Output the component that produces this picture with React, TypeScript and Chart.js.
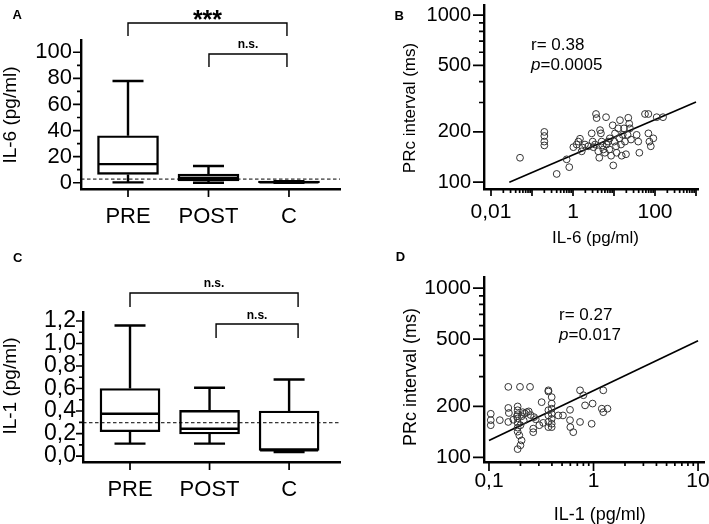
import React, { useEffect, useRef } from 'react';
import { Chart, registerables } from 'chart.js';

Chart.register(...registerables);

const FONT = "'Liberation Sans', Arial, Helvetica, sans-serif";

// ---------------- DATA ----------------
const groups = ['PRE', 'POST', 'C'];

// Panel A – IL-6 (pg/ml) box plots
const il6Min = [0.3, 0, 0];
const il6Q1 = [6.4, 1.3, 0];
const il6Median = [14.3, 3.6, 0.4];
const il6Q3 = [36, 6.6, 1.2];
const il6Max = [78, 12.8, 1.2];
const il6Cutoff = 2.8;
const il6TickValues = [0, 20, 40, 60, 80, 100];
const il6MinorTicks = [10, 30, 50, 70, 90];

// Panel C – IL-1 (pg/ml) box plots
const il1Min = [0.11, 0.11, 0.035];
const il1Q1 = [0.216, 0.196, 0.05];
const il1Median = [0.376, 0.243, 0.05];
const il1Q3 = [0.6, 0.406, 0.4];
const il1Max = [1.16, 0.607, 0.68];
const il1Cutoff = 0.296;
const il1TickValues = [0, 0.2, 0.4, 0.6, 0.8, 1.0, 1.2];
const il1MinorTicks = [0.1, 0.3, 0.5, 0.7, 0.9, 1.1];

// Panel B – IL-6 vs PRc interval
const il6X = [
  0.051, 0.2, 0.2, 0.2, 0.2, 0.4, 0.7, 0.81, 1.02, 1.23, 1.35, 1.48, 1.63, 1.72, 1.96, 2.35, 2.86,
  3.02, 3.14, 3.45, 3.64, 3.77, 4.14, 4.37, 4.57, 4.8, 5.0, 5.28, 5.5, 6.0, 6.4, 6.6, 7.2, 7.7, 7.9,
  8.5, 9.3, 9.6, 10.2, 10.6, 11.2, 11.6, 12.7, 13.5, 14, 14.8, 15.4, 16.3, 17.5, 18.5, 19.6, 21.5,
  22.3, 23.5, 24.5, 26, 35.7, 39, 41.5, 57, 69, 69, 73, 79, 91, 110, 157,
];
const prcB = [
  140, 200, 189, 175, 166, 112, 137, 123, 162, 168, 175, 182, 153, 161, 168, 164, 196,
  175, 162, 168, 256, 242, 153, 140, 205, 196, 175, 166, 157, 150, 245, 168, 175, 157, 183,
  144, 219, 126, 175, 196, 164, 150, 210, 183, 235, 168, 144, 192, 210, 175, 147, 192,
  243, 224, 210, 180, 192, 175, 150, 256, 256, 196, 175, 164, 183, 245, 245,
];
const fitBX = [0.028, 1000];
const fitBY = [100, 302];

// Panel D – IL-1 vs PRc interval
const il1X = [
  0.104, 0.104, 0.104, 0.127, 0.153, 0.153, 0.153, 0.171, 0.185, 0.188, 0.188, 0.188, 0.188, 0.188,
  0.188, 0.188, 0.198, 0.188, 0.2, 0.205, 0.195, 0.2, 0.21, 0.205, 0.215, 0.22, 0.247, 0.24, 0.25,
  0.265, 0.265, 0.27, 0.23, 0.303, 0.319, 0.37, 0.37, 0.37, 0.37, 0.37, 0.37, 0.398, 0.398, 0.398,
  0.398, 0.398, 0.398, 0.398, 0.46, 0.51, 0.596, 0.596, 0.6, 0.64, 0.743, 0.8, 0.743, 0.83, 0.98,
  0.96, 1.24, 1.2, 1.24, 1.36, 0.155, 0.28, 0.33,
];
const prcD = [
  181, 166, 155, 166, 261, 196, 162, 167, 175, 200, 190, 180, 170, 160,
  150, 142, 261, 112, 118, 126, 135, 155, 185, 175, 165, 182, 261, 187, 178,
  148, 141, 173, 185, 155, 212, 249, 245, 190, 177, 162, 151, 227, 208, 194,
  181, 169, 158, 151, 177, 177, 191, 166, 151, 141, 249, 233, 162, 203, 208,
  158, 249, 194, 185, 194, 183, 168, 160,
];
const fitDX = [0.1, 10];
const fitDY = [126, 488];

const prcTickValues = [100, 200, 500, 1000];
const prcTickLabels = ['100', '200', '500', '1000'];
const prcMinorTicks = [300, 400, 600, 700, 800, 900];

const il6LogMajor = [0.01, 0.1, 1, 10, 100, 1000];
const il6LogLabelValues = [0.01, 1, 100];
const il6LogLabels = ['0,01', '1', '100'];

const il1LogMajor = [0.1, 1, 10];
const il1LogLabelValues = [0.1, 1, 10];
const il1LogLabels = ['0,1', '1', '10'];

// ---------------- helpers ----------------
function decadeMinors(majors: number[]) {
  const out: number[] = [];
  for (let i = 0; i < majors.length - 1; i++) {
    for (let k = 2; k <= 9; k++) out.push(+(majors[i] * k).toPrecision(6));
  }
  return out;
}

type TickSpec = { x: { v: number; len: number }[]; y: { v: number; len: number }[] };

function drawTickMarks(chart: any, spec: TickSpec) {
  const ctx = chart.ctx;
  const { left, bottom } = chart.chartArea;
  const xs = chart.scales.x;
  const ys = chart.scales.y;
  ctx.save();
  ctx.strokeStyle = '#000';
  ctx.lineWidth = 1.7;
  ctx.beginPath();
  spec.y.forEach((t) => {
    const y = ys.getPixelForValue(t.v);
    ctx.moveTo(left - t.len, y);
    ctx.lineTo(left, y);
  });
  spec.x.forEach((t) => {
    const x = xs.getPixelForValue(t.v);
    ctx.moveTo(x, bottom);
    ctx.lineTo(x, bottom + t.len);
  });
  ctx.stroke();
  ctx.restore();
}

type Bracket = { from: number; to: number; top: number; leg: number; text: string; size: number; dy: number };

type BoxPanel = {
  w: number; h: number;
  area: { left: number; right: number; top: number; bottom: number };
  xMin: number; xMax: number; yMin: number; yMax: number;
  min: number[]; q1: number[]; median: number[]; q3: number[]; max: number[];
  cutoff: number;
  yTicks: number[]; yMinor: number[]; yFmt: (v: number) => string;
  yFont: number; yPad: number; xFont: number; xPad: number;
  yMajorLen: number; yMinorLen: number; xLen: number;
  boxWidth: number; capHalf: number;
  brackets: Bracket[];
};

const LW = 2.4;

function makeBoxChart(canvas: HTMLCanvasElement, p: BoxPanel) {
  const plugin = {
    id: 'boxDeco',
    afterDatasetsDraw(chart: any) {
      const ctx = chart.ctx;
      const xs = chart.scales.x;
      const ys = chart.scales.y;
      const { left, right } = chart.chartArea;
      ctx.save();
      ctx.strokeStyle = '#000';
      ctx.lineWidth = LW;
      p.median.forEach((m, i) => {
        const x = xs.getPixelForValue(i + 1);
        const half = p.boxWidth / 2;
        const yq1 = ys.getPixelForValue(p.q1[i]);
        const yq3 = ys.getPixelForValue(p.q3[i]);
        const ymin = ys.getPixelForValue(p.min[i]);
        const ymax = ys.getPixelForValue(p.max[i]);
        const ym = ys.getPixelForValue(m);
        ctx.beginPath();
        ctx.moveTo(x, yq3); ctx.lineTo(x, ymax);
        ctx.moveTo(x - p.capHalf, ymax); ctx.lineTo(x + p.capHalf, ymax);
        ctx.moveTo(x, yq1); ctx.lineTo(x, ymin);
        ctx.moveTo(x - p.capHalf, ymin); ctx.lineTo(x + p.capHalf, ymin);
        ctx.moveTo(x - half + 1, ym); ctx.lineTo(x + half - 1, ym);
        ctx.stroke();
      });
      ctx.lineWidth = 1;
      ctx.setLineDash([3.5, 2.5]);
      const yc = ys.getPixelForValue(p.cutoff);
      ctx.beginPath();
      ctx.moveTo(left, yc);
      ctx.lineTo(right, yc);
      ctx.stroke();
      ctx.restore();
    },
    afterDraw(chart: any) {
      drawTickMarks(chart, {
        y: [
          ...p.yTicks.map((v) => ({ v, len: p.yMajorLen })),
          ...p.yMinor.map((v) => ({ v, len: p.yMinorLen })),
        ],
        x: groups.map((_, i) => ({ v: i + 1, len: p.xLen })),
      });
      const ctx = chart.ctx;
      const xs = chart.scales.x;
      ctx.save();
      ctx.strokeStyle = '#000';
      ctx.fillStyle = '#000';
      ctx.lineWidth = 1.4;
      p.brackets.forEach((b) => {
        const x1 = xs.getPixelForValue(b.from);
        const x2 = xs.getPixelForValue(b.to);
        ctx.beginPath();
        ctx.moveTo(x1, b.leg);
        ctx.lineTo(x1, b.top);
        ctx.lineTo(x2, b.top);
        ctx.lineTo(x2, b.leg);
        ctx.stroke();
        ctx.font = `bold ${b.size}px ${FONT}`;
        ctx.textAlign = 'center';
        ctx.textBaseline = 'alphabetic';
        ctx.fillText(b.text, (x1 + x2) / 2, b.top + b.dy);
      });
      ctx.restore();
    },
  };

  return new Chart(canvas, {
    type: 'bar',
    data: {
      datasets: [
        {
          data: groups.map((g, i) => ({ x: i + 1, y: [p.q1[i], p.q3[i]] })) as any,
          backgroundColor: '#ffffff',
          borderColor: '#000000',
          borderWidth: LW,
          borderSkipped: false,
          barThickness: p.boxWidth,
        } as any,
      ],
    },
    options: {
      animation: false,
      responsive: false,
      devicePixelRatio: 1,
      events: [],
      layout: { padding: { left: 0, top: p.area.top, right: p.w - p.area.right, bottom: 0 } },
      plugins: { legend: { display: false }, tooltip: { enabled: false } },
      scales: {
        x: {
          type: 'linear',
          position: 'bottom',
          min: p.xMin,
          max: p.xMax,
          bounds: 'data',
          offset: false,
          grid: { display: false, drawTicks: false },
          border: { display: true, color: '#000', width: LW },
          ticks: {
            autoSkip: false, maxRotation: 0, minRotation: 0, padding: p.xPad, color: '#000',
            font: { family: FONT, size: p.xFont },
            callback: (v: any) => groups[Math.round(Number(v)) - 1] ?? '',
          },
          afterBuildTicks: (s: any) => { s.ticks = groups.map((_, i) => ({ value: i + 1 })); },
          afterFit: (s: any) => { s.height = p.h - p.area.bottom; s.paddingLeft = 0; s.paddingRight = 0; },
        } as any,
        y: {
          type: 'linear',
          position: 'left',
          min: p.yMin,
          max: p.yMax,
          bounds: 'data',
          grid: { display: false, drawTicks: false },
          border: { display: true, color: '#000', width: LW },
          ticks: {
            autoSkip: false, padding: p.yPad, color: '#000',
            font: { family: FONT, size: p.yFont },
            callback: (v: any) => p.yFmt(Number(v)),
          },
          afterBuildTicks: (s: any) => { s.ticks = p.yTicks.map((v) => ({ value: v })); },
          afterFit: (s: any) => { s.width = p.area.left; s.paddingTop = 0; s.paddingBottom = 0; },
        } as any,
      },
    },
    plugins: [plugin],
  });
}

type ScatterPanel = {
  w: number; h: number;
  area: { left: number; right: number; top: number; bottom: number };
  xMin: number; xMax: number; yMin: number; yMax: number;
  xs: number[]; ys: number[]; fitX: number[]; fitY: number[];
  xMajor: number[]; xLabelValues: number[]; xLabels: string[];
  xFont: number; xPad: number; yFont: number; yPad: number;
  xMajorLen: number; xMinorLen: number; yMajorLen: number; yMinorLen: number;
};

function makeScatterChart(canvas: HTMLCanvasElement, p: ScatterPanel) {
  const xMinor = decadeMinors(p.xMajor);
  const plugin = {
    id: 'scatterDeco',
    afterDraw(chart: any) {
      drawTickMarks(chart, {
        y: [
          ...prcTickValues.map((v) => ({ v, len: p.yMajorLen })),
          ...prcMinorTicks.map((v) => ({ v, len: p.yMinorLen })),
        ],
        x: [
          ...p.xMajor.map((v) => ({ v, len: p.xMajorLen })),
          ...xMinor.map((v) => ({ v, len: p.xMinorLen })),
        ],
      });
    },
  };
  return new Chart(canvas, {
    type: 'scatter',
    data: {
      datasets: [
        {
          data: p.xs.map((x, i) => ({ x, y: p.ys[i] })),
          pointRadius: 3.4,
          pointBorderWidth: 1,
          borderColor: '#333333',
          backgroundColor: 'rgba(0,0,0,0)',
        },
        {
          data: p.fitX.map((x, i) => ({ x, y: p.fitY[i] })),
          showLine: true,
          pointRadius: 0,
          borderColor: '#000',
          borderWidth: 1.7,
          fill: false,
        } as any,
      ],
    },
    options: {
      animation: false,
      responsive: false,
      devicePixelRatio: 1,
      events: [],
      layout: { padding: { left: 0, top: p.area.top, right: p.w - p.area.right, bottom: 0 } },
      plugins: { legend: { display: false }, tooltip: { enabled: false } },
      scales: {
        x: {
          type: 'logarithmic',
          position: 'bottom',
          min: p.xMin,
          max: p.xMax,
          bounds: 'data',
          grid: { display: false, drawTicks: false },
          border: { display: true, color: '#000', width: LW },
          ticks: {
            autoSkip: false, maxRotation: 0, minRotation: 0, padding: p.xPad, color: '#000',
            font: { family: FONT, size: p.xFont },
            callback: (v: any) => {
              const i = p.xLabelValues.findIndex((t) => Math.abs(t - Number(v)) < t * 1e-6);
              return i >= 0 ? p.xLabels[i] : '';
            },
          },
          afterBuildTicks: (s: any) => { s.ticks = p.xLabelValues.map((v) => ({ value: v })); },
          afterFit: (s: any) => { s.height = p.h - p.area.bottom; s.paddingLeft = 0; s.paddingRight = 0; },
        } as any,
        y: {
          type: 'logarithmic',
          position: 'left',
          min: p.yMin,
          max: p.yMax,
          bounds: 'data',
          grid: { display: false, drawTicks: false },
          border: { display: true, color: '#000', width: LW },
          ticks: {
            autoSkip: false, padding: p.yPad, color: '#000',
            font: { family: FONT, size: p.yFont },
            callback: (v: any) => {
              const i = prcTickValues.findIndex((t) => Math.abs(t - Number(v)) < 1e-6);
              return i >= 0 ? prcTickLabels[i] : '';
            },
          },
          afterBuildTicks: (s: any) => { s.ticks = prcTickValues.map((v) => ({ value: v })); },
          afterFit: (s: any) => { s.width = p.area.left; s.paddingTop = 0; s.paddingBottom = 0; },
        } as any,
      },
    },
    plugins: [plugin],
  });
}

// ---------------- panel configs ----------------
const panelA: BoxPanel = {
  w: 354, h: 262,
  area: { left: 81, right: 340, top: 40, bottom: 189 },
  xMin: 0.416, xMax: 3.634, yMin: -4.8, yMax: 109.4,
  min: il6Min, q1: il6Q1, median: il6Median, q3: il6Q3, max: il6Max, cutoff: il6Cutoff,
  yTicks: il6TickValues, yMinor: il6MinorTicks, yFmt: (v) => String(Math.round(v)),
  yFont: 22, yPad: 9, xFont: 22, xPad: 15,
  yMajorLen: 8, yMinorLen: 4, xLen: 8,
  boxWidth: 61, capHalf: 15.5,
  brackets: [
    { from: 1, to: 2.975, top: 23, leg: 36, text: '***', size: 25, dy: 4.5 },
    { from: 2.006, to: 2.975, top: 54, leg: 67, text: 'n.s.', size: 12, dy: -6 },
  ],
};

const panelC: BoxPanel = {
  w: 354, h: 262,
  area: { left: 83, right: 340, top: 50, bottom: 200 },
  xMin: 0.409, xMax: 3.64, yMin: -0.053, yMax: 1.28,
  min: il1Min, q1: il1Q1, median: il1Median, q3: il1Q3, max: il1Max, cutoff: il1Cutoff,
  yTicks: il1TickValues, yMinor: il1MinorTicks, yFmt: (v) => v.toFixed(1).replace('.', ','),
  yFont: 23, yPad: 7, xFont: 22, xPad: 15,
  yMajorLen: 7, yMinorLen: 4, xLen: 8,
  boxWidth: 60, capHalf: 15.5,
  brackets: [
    { from: 1, to: 3.113, top: 31, leg: 45, text: 'n.s.', size: 12, dy: -6.5 },
    { from: 2.082, to: 3.113, top: 62, leg: 76, text: 'n.s.', size: 12, dy: -5.5 },
  ],
};

const panelB: ScatterPanel = {
  w: 355, h: 262,
  area: { left: 130, right: 344, top: 0, bottom: 189 },
  xMin: 0.00675, xMax: 1119, yMin: 91, yMax: 1151,
  xs: il6X, ys: prcB, fitX: fitBX, fitY: fitBY,
  xMajor: il6LogMajor, xLabelValues: il6LogLabelValues, xLabels: il6LogLabels,
  xFont: 21, xPad: 11, yFont: 20, yPad: 13,
  xMajorLen: 7, xMinorLen: 4, yMajorLen: 11, yMinorLen: 5,
};

const panelD: ScatterPanel = {
  w: 355, h: 262,
  area: { left: 130, right: 350, top: 15, bottom: 200 },
  xMin: 0.0896, xMax: 11.4, yMin: 94, yMax: 1162,
  xs: il1X, ys: prcD, fitX: fitDX, fitY: fitDY,
  xMajor: il1LogMajor, xLabelValues: il1LogLabelValues, xLabels: il1LogLabels,
  xFont: 21, xPad: 7, yFont: 21, yPad: 13,
  xMajorLen: 9, xMinorLen: 4, yMajorLen: 11, yMinorLen: 5,
};

// ---------------- React ----------------
function useChart(build: (c: HTMLCanvasElement) => Chart) {
  const ref = useRef<HTMLCanvasElement>(null);
  useEffect(() => {
    if (!ref.current) return;
    const ch = build(ref.current);
    return () => ch.destroy();
  }, []);
  return ref;
}

function Txt(props: {
  x: number; y: number; size: number; bold?: boolean; rotate?: boolean; leftAlign?: boolean;
  children: React.ReactNode;
}) {
  const { x, y, size, bold, rotate, leftAlign, children } = props;
  const tf = leftAlign ? 'translate(0,-50%)' : `translate(-50%,-50%)${rotate ? ' rotate(-90deg)' : ''}`;
  return (
    <div
      style={{
        position: 'absolute', left: x, top: y, transform: tf, fontSize: size, lineHeight: 1,
        whiteSpace: 'nowrap', fontFamily: FONT, color: '#000', fontWeight: bold ? 'bold' : 'normal',
      }}
    >
      {children}
    </div>
  );
}

export default function App() {
  const refA = useChart((c) => makeBoxChart(c, panelA));
  const refC = useChart((c) => makeBoxChart(c, panelC));
  const refB = useChart((c) => makeScatterChart(c, panelB));
  const refD = useChart((c) => makeScatterChart(c, panelD));

  const cv = (l: number, t: number, w: number, h: number) => ({
    position: 'absolute' as const, left: l, top: t, width: w, height: h, display: 'block',
  });

  return (
    <div style={{ position: 'fixed', left: 0, top: 0, width: 709, height: 524, background: '#fff', overflow: 'hidden' }}>
      <canvas ref={refA} width={354} height={262} style={cv(0, 0, 354, 262)} />
      <canvas ref={refB} width={355} height={262} style={cv(354, 0, 355, 262)} />
      <canvas ref={refC} width={354} height={262} style={cv(0, 262, 354, 262)} />
      <canvas ref={refD} width={355} height={262} style={cv(354, 262, 355, 262)} />

      <Txt x={17.2} y={14.2} size={13} bold>A</Txt>
      <Txt x={399.2} y={15.3} size={13} bold>B</Txt>
      <Txt x={17.7} y={256.7} size={13} bold>C</Txt>
      <Txt x={400.5} y={256.2} size={13} bold>D</Txt>

      <Txt x={8.5} y={114.5} size={19} rotate>IL-6 (pg/ml)</Txt>
      <Txt x={8.5} y={386} size={19} rotate>IL-1 (pg/ml)</Txt>
      <Txt x={409.3} y={107.5} size={17} rotate>PRc interval (ms)</Txt>
      <Txt x={410} y={376.7} size={18} rotate>PRc interval (ms)</Txt>
      <Txt x={595.5} y={236.8} size={17}>IL-6 (pg/ml)</Txt>
      <Txt x={599.7} y={513.5} size={18}>IL-1 (pg/ml)</Txt>

      <Txt x={531} y={44.2} size={17} leftAlign>r= 0.38</Txt>
      <Txt x={531} y={64.2} size={17} leftAlign><i>p</i>=0.0005</Txt>
      <Txt x={559} y={314.2} size={17} leftAlign>r= 0.27</Txt>
      <Txt x={559} y={334.2} size={17} leftAlign><i>p</i>=0.017</Txt>
    </div>
  );
}
